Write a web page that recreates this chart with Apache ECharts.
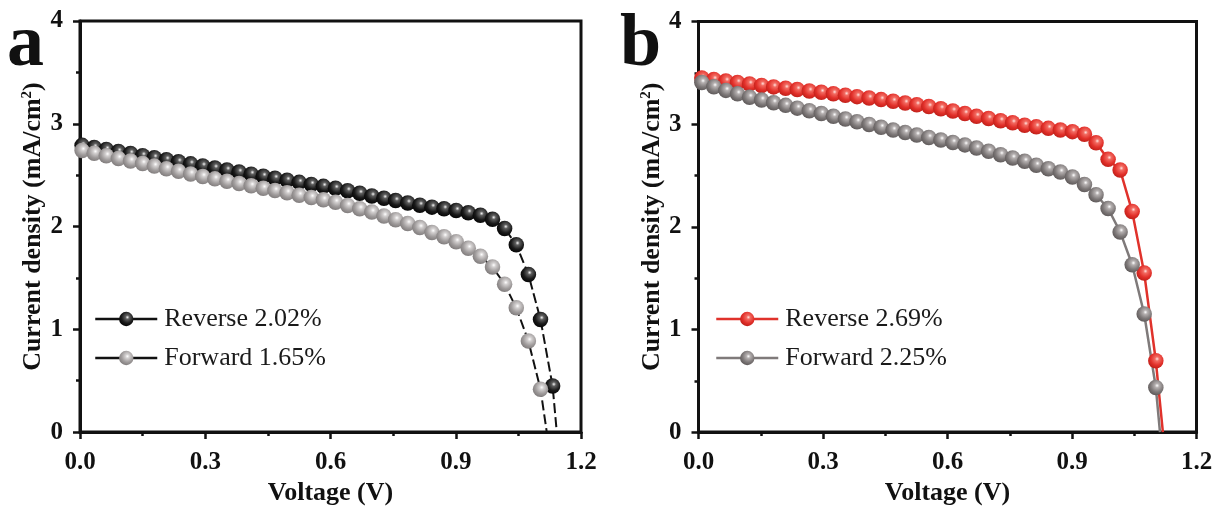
<!DOCTYPE html>
<html>
<head>
<meta charset="utf-8">
<script src="https://cdn.jsdelivr.net/npm/echarts@6/dist/echarts.min.js"></script>
<style>
  html, body { margin: 0; padding: 0; background: #ffffff; }
  #chart { width: 1219px; height: 511px; }
</style>
</head>
<body>
<div id="chart"></div>
<script>
// J-V curves of two devices, reverse and forward scans
const voltageA = [0.005, 0.034, 0.063, 0.092, 0.121, 0.150, 0.178, 0.207, 0.236, 0.265,
  0.294, 0.323, 0.352, 0.381, 0.410, 0.439, 0.467, 0.496, 0.525, 0.554,
  0.583, 0.612, 0.641, 0.670, 0.699, 0.728, 0.756, 0.785, 0.814, 0.843,
  0.872, 0.901, 0.930, 0.959, 0.988, 1.017, 1.045, 1.074, 1.103, 1.132];
const reverseA = [2.790, 2.770, 2.750, 2.730, 2.710, 2.690, 2.670, 2.650, 2.630, 2.610,
  2.590, 2.570, 2.550, 2.530, 2.510, 2.490, 2.470, 2.450, 2.430, 2.410,
  2.391, 2.372, 2.349, 2.323, 2.298, 2.275, 2.253, 2.230, 2.208, 2.189,
  2.173, 2.157, 2.134, 2.109, 2.071, 1.982, 1.822, 1.534, 1.096, 0.448];
const forwardA = [2.740, 2.714, 2.689, 2.663, 2.638, 2.613, 2.588, 2.563, 2.538, 2.512,
  2.487, 2.464, 2.441, 2.418, 2.396, 2.373, 2.350, 2.328, 2.305, 2.282,
  2.260, 2.237, 2.205, 2.173, 2.141, 2.102, 2.067, 2.029, 1.990, 1.943,
  1.901, 1.853, 1.789, 1.710, 1.607, 1.438, 1.209, 0.886, 0.417];
const vocA = { reverse: 1.142, forward: 1.118 };

const voltageB = [0.008, 0.037, 0.066, 0.094, 0.123, 0.152, 0.181, 0.210, 0.238, 0.267,
  0.296, 0.325, 0.354, 0.382, 0.411, 0.440, 0.469, 0.498, 0.526, 0.555,
  0.584, 0.613, 0.642, 0.670, 0.699, 0.728, 0.757, 0.786, 0.814, 0.843,
  0.872, 0.901, 0.930, 0.958, 0.987, 1.016, 1.045, 1.074, 1.102];
const reverseB = [3.450, 3.435, 3.420, 3.405, 3.391, 3.377, 3.363, 3.350, 3.337, 3.323,
  3.310, 3.296, 3.282, 3.268, 3.254, 3.239, 3.223, 3.206, 3.189, 3.171,
  3.151, 3.129, 3.103, 3.077, 3.055, 3.033, 3.013, 2.990, 2.975, 2.959,
  2.942, 2.927, 2.901, 2.818, 2.657, 2.553, 2.150, 1.550, 0.695];
const forwardB = [3.405, 3.365, 3.329, 3.295, 3.263, 3.236, 3.209, 3.183, 3.156, 3.130,
  3.103, 3.076, 3.050, 3.023, 2.996, 2.969, 2.942, 2.918, 2.894, 2.870,
  2.846, 2.821, 2.798, 2.767, 2.735, 2.702, 2.670, 2.639, 2.600, 2.565,
  2.533, 2.485, 2.412, 2.312, 2.178, 1.950, 1.630, 1.150, 0.435];
const vocB = { reverse: 1.119, forward: 1.112 };

const namesA = ['Reverse 2.02%', 'Forward 1.65%'];
const namesB = ['Reverse 2.69%', 'Forward 2.25%'];
const voltageTicks = [0, 0.3, 0.6, 0.9, 1.2];
const currentTicks = [0, 1, 2, 3, 4];

const SERIF = '"Liberation Serif", "DejaVu Serif", serif';

// measured points plus the point where the fitted line meets J = 0
function pairs(xs, ys, voc) {
  const out = ys.map((y, i) => [xs[i], y]);
  out.push({ value: [voc, 0], symbol: 'none' });
  return out;
}

// shaded sphere marker
function sphere(hi, mid, base, edge) {
  return {
    type: 'radial', x: 0.58, y: 0.38, r: 0.68,
    colorStops: [
      { offset: 0, color: hi },
      { offset: 0.2, color: mid },
      { offset: 0.6, color: base },
      { offset: 1, color: edge }
    ]
  };
}

const blackBall = sphere('#f4f4f4', '#5e5e5e', '#1a1a1a', '#000000');
const lightGreyBall = sphere('#ffffff', '#d3d0d0', '#9f9b9b', '#7a7676');
const redBall = sphere('#ffe2de', '#f26a61', '#e2302a', '#b81c16');
const greyBall = sphere('#ffffff', '#b5b0b0', '#7e7979', '#585353');

function xAxisFor(gridIndex) {
  return {
    type: 'value', gridIndex: gridIndex,
    min: voltageTicks[0], max: voltageTicks[voltageTicks.length - 1], interval: 0.3,
    name: 'Voltage (V)', nameLocation: 'middle', nameGap: 41,
    nameTextStyle: { fontFamily: SERIF, fontWeight: 'bold', fontSize: 26, color: '#111' },
    axisLine: { show: true, onZero: false, lineStyle: { color: '#111', width: 3 } },
    axisTick: { show: true, length: 7, lineStyle: { color: '#111', width: 2.5 } },
    minorTick: { show: true, splitNumber: 2, length: 4, lineStyle: { color: '#111', width: 2.5 } },
    axisLabel: {
      fontFamily: SERIF, fontWeight: 'bold', fontSize: 25, color: '#111', margin: 18,
      formatter: v => v.toFixed(1)
    },
    splitLine: { show: false }
  };
}

function yAxisFor(gridIndex) {
  return {
    type: 'value', gridIndex: gridIndex,
    min: currentTicks[0], max: currentTicks[currentTicks.length - 1], interval: 1,
    name: 'Current density (mA/cm{sup|2})', nameLocation: 'middle', nameGap: 27, nameRotate: 90,
    nameTextStyle: {
      fontFamily: SERIF, fontWeight: 'bold', fontSize: 26, color: '#111',
      rich: { sup: { fontFamily: SERIF, fontWeight: 'bold', fontSize: 15, color: '#111', verticalAlign: 'top', padding: [0, 0, 12, 0] } }
    },
    axisLine: { show: true, onZero: false, lineStyle: { color: '#111', width: 3 } },
    axisTick: { show: true, length: 7, lineStyle: { color: '#111', width: 2.5 } },
    minorTick: { show: true, splitNumber: 2, length: 4, lineStyle: { color: '#111', width: 2.5 } },
    axisLabel: { fontFamily: SERIF, fontWeight: 'bold', fontSize: 25, color: '#111', margin: 17 },
    splitLine: { show: false }
  };
}

function legendFor(names, left) {
  return {
    data: names, orient: 'vertical', left: left, top: 301,
    itemWidth: 62, itemHeight: 18, itemGap: 13,
    textStyle: { fontFamily: SERIF, fontSize: 26, color: '#1a1a1a', padding: [0, 0, 0, 2] },
    lineStyle: { type: 'solid', width: 2.5 },
    selectedMode: false
  };
}

const chart = echarts.init(document.getElementById('chart'), null, { renderer: 'canvas' });

chart.setOption({
  backgroundColor: '#ffffff',
  animation: false,
  grid: [
    { left: 80, top: 21, width: 501, height: 417.5, show: true, borderColor: '#111', borderWidth: 3, containLabel: false },
    { left: 698.5, top: 21.5, width: 498, height: 416.5, show: true, borderColor: '#111', borderWidth: 3, containLabel: false }
  ],
  xAxis: [xAxisFor(0), xAxisFor(1)],
  yAxis: [yAxisFor(0), yAxisFor(1)],
  legend: [legendFor(namesA, 89), legendFor(namesB, 710)],
  graphic: [
    { type: 'text', left: 7, top: 9, style: { text: 'a', font: 'bold 74px ' + SERIF, fill: '#111' } },
    { type: 'text', left: 620, top: 9, style: { text: 'b', font: 'bold 74px ' + SERIF, fill: '#111' } }
  ],
  series: [
    {
      name: namesA[0], type: 'line', xAxisIndex: 0, yAxisIndex: 0,
      data: pairs(voltageA, reverseA, vocA.reverse),
      symbol: 'circle', symbolSize: 15.5,
      lineStyle: { color: '#111', width: 2, type: [10, 4] },
      itemStyle: { color: blackBall, borderWidth: 0 }
    },
    {
      name: namesA[1], type: 'line', xAxisIndex: 0, yAxisIndex: 0,
      data: pairs(voltageA, forwardA, vocA.forward),
      symbol: 'circle', symbolSize: 15.5,
      lineStyle: { color: '#111', width: 2, type: [10, 4] },
      itemStyle: { color: lightGreyBall, borderWidth: 0 }
    },
    {
      name: namesB[0], type: 'line', xAxisIndex: 1, yAxisIndex: 1,
      data: pairs(voltageB, reverseB, vocB.reverse),
      symbol: 'circle', symbolSize: 15.5,
      lineStyle: { color: '#e0322b', width: 2.5 },
      itemStyle: { color: redBall, borderWidth: 0 }
    },
    {
      name: namesB[1], type: 'line', xAxisIndex: 1, yAxisIndex: 1,
      data: pairs(voltageB, forwardB, vocB.forward),
      symbol: 'circle', symbolSize: 15.5,
      lineStyle: { color: '#7f7a7a', width: 2.5 },
      itemStyle: { color: greyBall, borderWidth: 0 }
    }
  ]
});
</script>
</body>
</html>
